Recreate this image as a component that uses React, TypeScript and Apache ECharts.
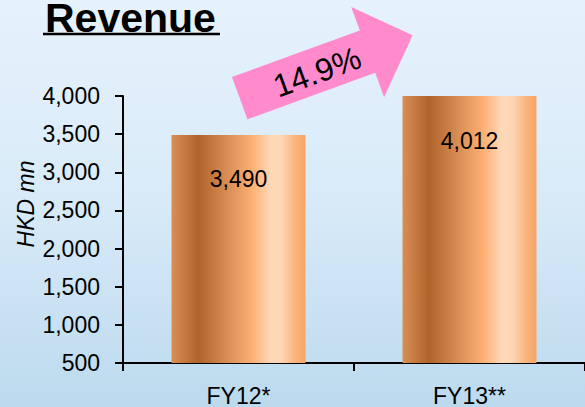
import React, { useEffect, useRef } from "react";
import * as echarts from "echarts";

const categories = ["FY12*", "FY13**"];
const revenue = [3490, 4012];
const growthLabel = "14.9%";
const titleText = "Revenue";
const axisName = "HKD mn";

export default function App() {
  const ref = useRef<HTMLDivElement>(null);
  useEffect(() => {
    if (!ref.current) return;
    const chart = echarts.init(ref.current, null, { renderer: "svg" });
    const barGradient = new echarts.graphic.LinearGradient(0, 0, 1, 0, [
      { offset: 0, color: "#D98E55" },
      { offset: 0.2, color: "#B0642C" },
      { offset: 0.42, color: "#D88E55" },
      { offset: 0.6, color: "#FDAF72" },
      { offset: 0.74, color: "#FFD8B8" },
      { offset: 0.82, color: "#FDD6B6" },
      { offset: 0.92, color: "#FBB47C" },
      { offset: 1, color: "#F6A465" },
    ]);
    const font = "'Liberation Sans', Arial, sans-serif";
    const ang = (20 * Math.PI) / 180;
    const ux = Math.cos(ang), uy = -Math.sin(ang);
    const nx = Math.sin(ang), ny = Math.cos(ang);
    const o = [232, 77];
    const P = (a: number, b: number) => [o[0] + a * ux + b * nx, o[1] + a * uy + b * ny];
    const arrowPts = [P(0, 0), P(136, 0), P(136, -25), P(184, 22.5), P(136, 71), P(136, 45), P(0, 45)];

    chart.setOption({
      animation: false,
      backgroundColor: new echarts.graphic.LinearGradient(0, 0, 0, 1, [
        { offset: 0, color: "#E6F2FC" },
        { offset: 0.5, color: "#D8EAF8" },
        { offset: 1, color: "#BCDAEE" },
      ]),
      grid: { left: 123, top: 96, width: 468, height: 267 },
      xAxis: {
        type: "category",
        data: categories,
        axisLine: { lineStyle: { color: "#000", width: 2 } },
        axisTick: { show: true, length: 8, lineStyle: { color: "#000", width: 2 } },
        axisLabel: { color: "#000", fontSize: 23, fontFamily: font, margin: 21 },
      },
      yAxis: {
        type: "value",
        min: 500,
        max: 4000,
        interval: 500,
        splitLine: { show: false },
        axisLine: { show: true, lineStyle: { color: "#000", width: 2 } },
        axisTick: { show: true, length: 8, lineStyle: { color: "#000", width: 2 } },
        axisLabel: {
          color: "#000",
          fontSize: 23,
          fontFamily: font,
          margin: 23,
          formatter: (v: number) => v.toLocaleString("en-US"),
        },
      },
      series: [
        {
          type: "bar",
          data: revenue,
          barWidth: "58%",
          itemStyle: { color: barGradient },
          label: {
            show: true,
            position: "insideTop",
            distance: 33,
            color: "#000",
            fontSize: 23,
            fontFamily: font,
            formatter: (p: any) => Number(p.value).toLocaleString("en-US"),
          },
        },
      ],
      graphic: [
        {
          type: "text",
          left: 45,
          top: -3,
          style: { text: titleText, fontSize: 41, fontWeight: "bold", fontFamily: font, fill: "#000" },
        },
        {
          type: "line",
          shape: { x1: 43, y1: 34, x2: 220, y2: 34 },
          style: { stroke: "#000", lineWidth: 2.5 },
        },
        {
          type: "text",
          x: 26,
          y: 204,
          rotation: Math.PI / 2,
          style: {
            text: axisName,
            fontSize: 23,
            fontStyle: "italic",
            fontFamily: font,
            fill: "#000",
            align: "center",
            verticalAlign: "middle",
          },
        },
        {
          type: "polygon",
          shape: { points: arrowPts },
          style: { fill: "#FF8BCC" },
        },
        {
          type: "text",
          x: 317,
          y: 72,
          rotation: ang,
          style: {
            text: growthLabel,
            fontSize: 32,
            fontFamily: font,
            fill: "#000",
            align: "center",
            verticalAlign: "middle",
          },
        },
      ],
    });
    return () => chart.dispose();
  }, []);
  return (
    <div
      ref={ref}
      style={{ position: "fixed", left: 0, top: 0, width: 585, height: 407 }}
    />
  );
}
